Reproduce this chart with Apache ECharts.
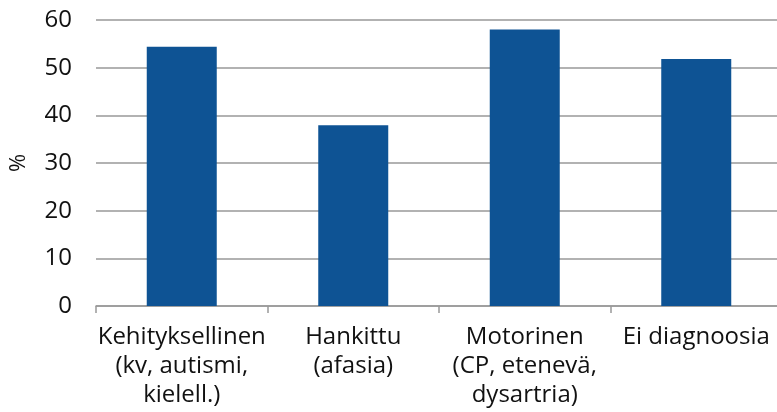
<!DOCTYPE html>
<html>
<head>
<meta charset="utf-8">
<script src="https://cdn.jsdelivr.net/npm/echarts@6/dist/echarts.min.js"></script>
<style>
  html, body { margin: 0; padding: 0; background: #fff; }
  #chart { width: 777px; height: 412px; }
</style>
</head>
<body>
<div id="chart"></div>
<script>
// Diagnosis groups and their shares (%)
const categories = [
  'Kehityksellinen\n(kv, autismi,\nkielell.)',
  'Hankittu\n(afasia)',
  'Motorinen\n(CP, etenevä,\ndysartria)',
  'Ei diagnoosia'
];
const values = [54.4, 37.9, 58.0, 51.8];
const yTicks = { min: 0, max: 60, interval: 10 };
const yName = '%';

const FONT = '"Open Sans", "Liberation Sans", sans-serif';
const chart = echarts.init(document.getElementById('chart'), null, { renderer: 'canvas' });

chart.setOption({
  animation: false,
  grid: {
    left: 96, right: -5, top: 20, bottom: 106,
    containLabel: false,
    outerBoundsMode: 'none'
  },
  xAxis: {
    type: 'category',
    data: categories,
    axisLine: { show: true, lineStyle: { color: '#999', width: 1.5 } },
    axisTick: { show: true, length: 7, alignWithLabel: false, lineStyle: { color: '#999', width: 1.5 } },
    axisLabel: {
      interval: 0,
      margin: 17,
      color: '#111',
      fontFamily: FONT,
      fontSize: 24,
      lineHeight: 29,
      hideOverlap: false
    }
  },
  yAxis: {
    type: 'value',
    min: yTicks.min,
    max: yTicks.max,
    interval: yTicks.interval,
    name: yName,
    nameLocation: 'middle',
    nameGap: 66,
    nameRotate: 90,
    nameTextStyle: { color: '#111', fontFamily: FONT, fontSize: 22 },
    axisLine: { show: false },
    axisTick: { show: false },
    axisLabel: { margin: 24, color: '#111', fontFamily: FONT, fontSize: 24 },
    splitLine: { show: true, lineStyle: { color: '#999', width: 1.5 } }
  },
  series: [{
    type: 'bar',
    data: values,
    barWidth: 70,
    itemStyle: { color: '#0e5394' }
  }]
});
</script>
</body>
</html>
